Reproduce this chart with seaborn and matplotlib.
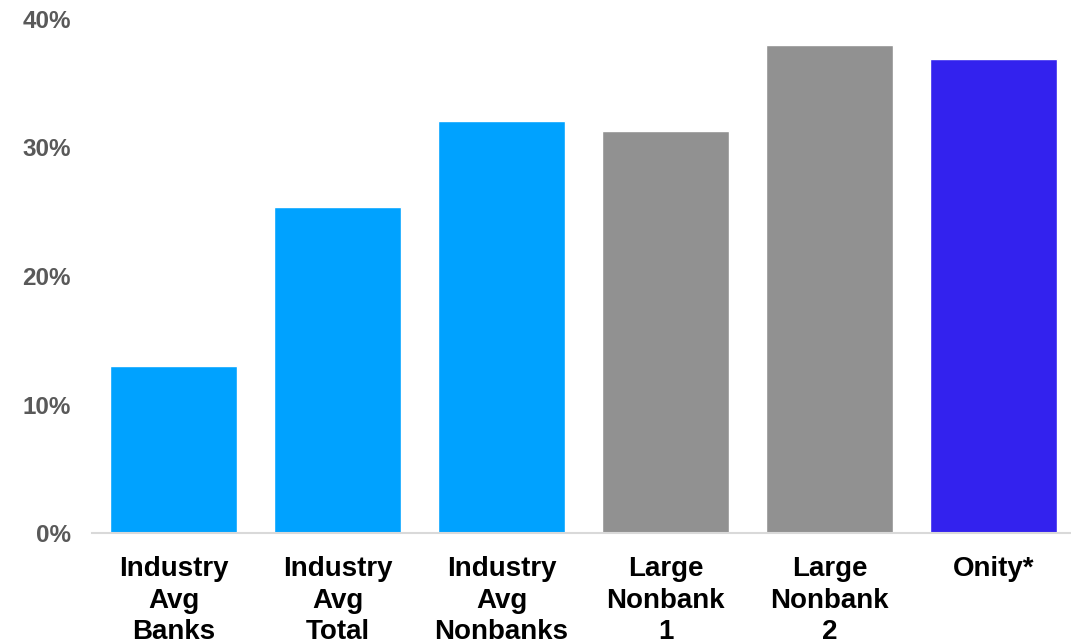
import matplotlib
matplotlib.use("Agg")
import matplotlib.pyplot as plt
import seaborn as sns
import pandas as pd

categories = ["Industry\nAvg\nBanks", "Industry\nAvg\nTotal", "Industry\nAvg\nNonbanks",
              "Large\nNonbank\n1", "Large\nNonbank\n2", "Onity*"]
values = [13.0, 25.4, 32.1, 31.3, 38.0, 36.9]
colors = ["#00A2FF", "#00A2FF", "#00A2FF", "#919191", "#919191", "#3322EE"]
yticks = [0, 10, 20, 30, 40]

sns.set_theme(style="white")
plt.rcParams["font.family"] = ["Liberation Sans", "DejaVu Sans"]

df = pd.DataFrame({"cat": categories, "val": values})

fig = plt.figure(figsize=(10.71, 6.44), dpi=100)
ax = fig.add_axes([91.5 / 1071, (644 - 533) / 644, 984 / 1071, 514 / 644])
sns.barplot(data=df, x="cat", y="val", hue="cat", palette=colors, legend=False,
            width=0.775, saturation=1, ax=ax)
ax.set_xlim(-0.5, 5.5)
ax.set_ylim(0, 40)
ax.set_yticks(yticks)
ax.set_yticklabels([f"{t}%" for t in yticks])
ax.set_xlabel("")
ax.set_ylabel("")
for s in ["top", "right", "left"]:
    ax.spines[s].set_visible(False)
ax.spines["bottom"].set_color("#D9D9D9")
ax.spines["bottom"].set_linewidth(1.5)
ax.tick_params(axis="y", length=0, pad=15, labelsize=17.5, labelcolor="#595959")
ax.tick_params(axis="x", length=0, pad=16.5, labelsize=20, labelcolor="black")
for lab in ax.get_yticklabels():
    lab.set_fontweight("bold")
for lab in ax.get_xticklabels():
    lab.set_fontweight("bold")
    lab.set_linespacing(1.28)
ax.grid(False)
fig.savefig("out.png", dpi=100)
